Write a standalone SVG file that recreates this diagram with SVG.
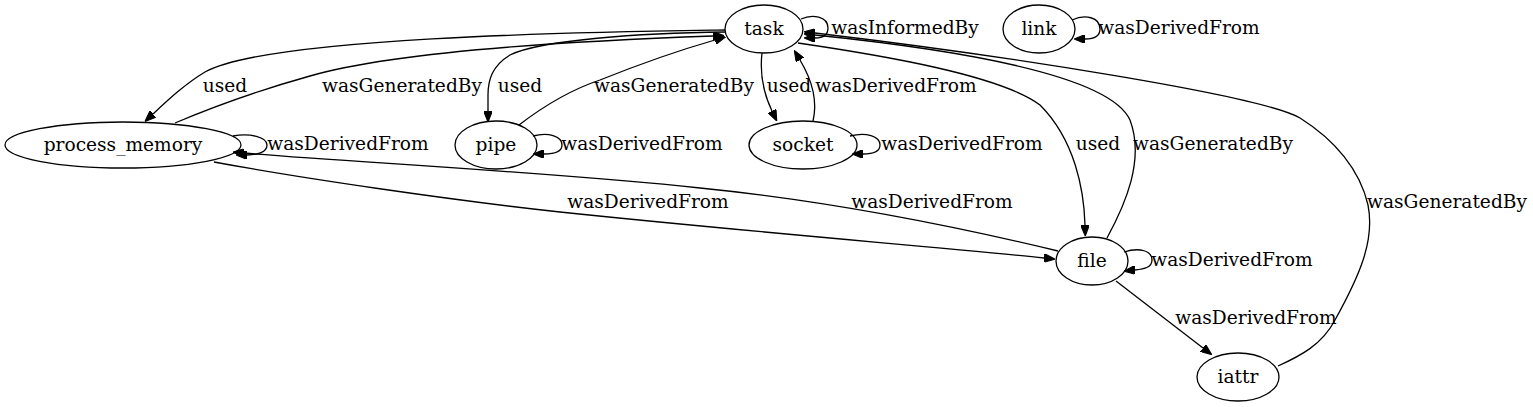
<svg xmlns="http://www.w3.org/2000/svg" width="1533" height="407" viewBox="0 0 1533 407">
<style>
.n{fill:none;stroke:#000;stroke-width:1.3}
.e{fill:none;stroke:#000;stroke-width:1.3;marker-end:url(#ah)}
text{font-family:"DejaVu Serif","Liberation Serif",serif;font-size:18.6px;fill:#000;text-anchor:middle}
</style>
<defs>
<marker id="ah" markerUnits="userSpaceOnUse" viewBox="0 0 10 8" refX="0" refY="4" markerWidth="11" markerHeight="8.8" orient="auto"><path d="M0,0 L10,4 L0,8 Z" fill="#000" stroke="#000" stroke-width="1"/></marker>
</defs>
<rect width="1533" height="407" fill="#fff"/>
<g id="edges">
<path class="e" d="M725,30 C600,32 270,36 205,72 C185,84 168,100 153,114"/>
<text x="225" y="92">used</text>
<path class="e" d="M175,123 C215,106 260,90 310,76 C400,50 600,40 713,36"/>
<text x="402" y="92">wasGeneratedBy</text>
<path class="e" d="M726,32 C640,33 540,40 510,55 C492,66 488,80 488,95 L488,111"/>
<text x="520" y="92">used</text>
<path class="e" d="M519,125 C545,105 570,90 600,80 C640,64 680,50 715,40"/>
<text x="674" y="92">wasGeneratedBy</text>
<path class="e" d="M762,53 C760,70 762,90 772,111"/>
<text x="789" y="92">used</text>
<path class="e" d="M813,121 C818,100 812,80 800,60"/>
<text x="896" y="92">wasDerivedFrom</text>
<path class="e" d="M801,19 C812,14 828,16 828,28 C828,36 822,38 815,38"/>
<text x="905" y="34">wasInformedBy</text>
<path class="e" d="M1072,20 C1085,14 1100,17 1100,29 C1100,37 1093,39 1085,39"/>
<text x="1179" y="34">wasDerivedFrom</text>
<path class="e" d="M233,136 C250,133 267,137 267,145 C267,152 258,155 247,155"/>
<text x="348" y="150">wasDerivedFrom</text>
<path class="e" d="M533,136 C548,132 562,136 562,145 C562,152 554,154 544,154"/>
<text x="642" y="150">wasDerivedFrom</text>
<path class="e" d="M850,136 C866,132 880,136 880,145 C880,152 872,154 863,154"/>
<text x="962" y="150">wasDerivedFrom</text>
<path class="e" d="M798,43 C880,55 1000,75 1040,105 C1075,140 1084,190 1085,225"/>
<text x="1098" y="150">used</text>
<path class="e" d="M1107,238 C1125,205 1145,160 1130,120 C1110,75 960,50 815,35"/>
<text x="1213" y="150">wasGeneratedBy</text>
<path class="e" d="M1278,366 C1300,356 1322,345 1335,320 C1360,275 1375,240 1368,205 C1360,170 1335,140 1300,118 C1260,95 1000,55 815,33"/>
<text x="1447" y="208">wasGeneratedBy</text>
<path class="e" d="M214,162 C300,178 450,200 560,212 C750,232 950,248 1044,258"/>
<text x="648" y="208">wasDerivedFrom</text>
<path class="e" d="M1058,251 C950,225 820,200 700,188 C550,172 350,162 244,153"/>
<text x="932" y="208">wasDerivedFrom</text>
<path class="e" d="M1124,252 C1140,247 1152,251 1152,260 C1152,267 1145,269 1135,270"/>
<text x="1232" y="266">wasDerivedFrom</text>
<path class="e" d="M1116,281 L1203,348"/>
<text x="1256" y="324">wasDerivedFrom</text>
</g>
<g id="task"><ellipse class="n" cx="764" cy="29" rx="39" ry="24"/><text x="764" y="35">task</text></g>
<g id="link"><ellipse class="n" cx="1039" cy="29" rx="36" ry="24"/><text x="1039" y="35">link</text></g>
<g id="process_memory"><ellipse class="n" cx="123" cy="145" rx="118" ry="23"/><text x="123" y="151">process_memory</text></g>
<g id="pipe"><ellipse class="n" cx="496" cy="145" rx="41" ry="24"/><text x="496" y="151">pipe</text></g>
<g id="socket"><ellipse class="n" cx="803" cy="145" rx="54" ry="24"/><text x="803" y="151">socket</text></g>
<g id="file"><ellipse class="n" cx="1092" cy="261" rx="36" ry="24"/><text x="1092" y="267">file</text></g>
<g id="iattr"><ellipse class="n" cx="1238" cy="377" rx="41" ry="24"/><text x="1238" y="383">iattr</text></g>
</svg>
